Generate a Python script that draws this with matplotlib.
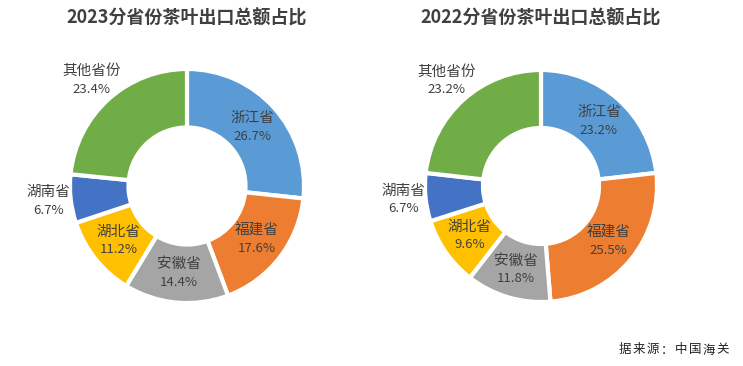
import numpy as np
import matplotlib
matplotlib.use("Agg")
import matplotlib.pyplot as plt

plt.rcParams["font.family"] = ["Noto Sans CJK SC", "DejaVu Sans"]

# ── Data ─────────────────────────────────────────────────────────────────────
provinces = ["浙江省", "福建省", "安徽省", "湖北省", "湖南省", "其他省份"]
share_2023 = [26.7, 17.6, 14.4, 11.2, 6.7, 23.4]
share_2022 = [23.2, 25.5, 11.8, 9.6, 6.7, 23.2]
titles = ["2023分省份茶叶出口总额占比", "2022分省份茶叶出口总额占比"]
source = "据来源：中国海关"

# ── Style ────────────────────────────────────────────────────────────────────
COLORS = ["#5B9BD5", "#ED7D31", "#A5A5A5", "#FFC000", "#4472C4", "#70AD47"]
TEXT = "#404040"
W, H = 743, 366
# label distance (fraction of radius) — small slices get labels outside
LABEL_R = [0.75, 0.75, 0.75, 0.75, 1.19, 1.22]

fig = plt.figure(figsize=(W / 100, H / 100), dpi=100)
ax = fig.add_axes([0, 0, 1, 1])


def donut(values, cx, cy, r, title):
    wedges, _ = ax.pie(values, colors=COLORS, startangle=90, counterclock=False,
                       radius=r, center=(cx, cy), explode=[0.022] * len(values),
                       wedgeprops=dict(width=r * 0.5, edgecolor="white", linewidth=3))
    for w, name, v, k in zip(wedges, provinces, values, LABEL_R):
        mid = np.deg2rad((w.theta1 + w.theta2) / 2)
        x = cx + r * k * np.cos(mid)
        y = cy + r * k * np.sin(mid)
        ax.text(x, y + 9, name, ha="center", va="center", fontsize=10.5, color=TEXT)
        ax.text(x, y - 9, f"{v}%", ha="center", va="center", fontsize=9.5, color=TEXT)
    ax.text(cx, H - 18, title, ha="center", va="center", fontsize=13,
            fontweight="bold", color=TEXT)


donut(share_2023, 187, H - 186, 117, titles[0])
donut(share_2022, 541, H - 186, 116, titles[1])

# source note, letter-spaced like the original
for i, ch in enumerate(source):
    ax.text(625 + i * 14, H - 350, ch, ha="center", va="center",
            fontsize=9, color="#222222")

ax.set_xlim(0, W)
ax.set_ylim(0, H)
ax.set_aspect("auto")
ax.axis("off")

fig.savefig("out.png", dpi=100)
